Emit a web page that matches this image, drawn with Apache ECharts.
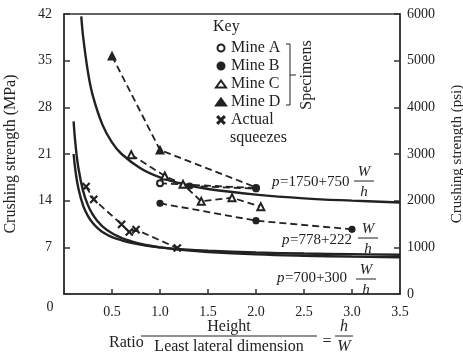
<!DOCTYPE html>
<html>
<head>
<meta charset="utf-8">
<script src="https://cdn.jsdelivr.net/npm/echarts@6/dist/echarts.min.js"></script>
<style>
  html, body { margin: 0; padding: 0; background: #fff; }
  #chart { width: 463px; height: 363px; }
</style>
</head>
<body>
<div id="chart"></div>
<script>
// curves (psi, right axis)
const upperX = [0.18, 0.2, 0.25, 0.3, 0.4, 0.5, 0.6, 0.8, 1.0, 1.25, 1.5, 2.0, 2.5, 3.0, 3.5]
const upperPsi = [5950, 5500, 4750, 4250, 3630, 3250, 3000, 2690, 2500, 2350, 2250, 2130, 2050, 2000, 1960]
const lowerX = [0.1, 0.12, 0.15, 0.2, 0.25, 0.3, 0.35, 0.4, 0.5, 0.6, 0.7, 0.85, 1.0, 1.25, 1.5, 2.0, 2.5, 3.0, 3.5]
const lower300Psi = [3700, 3200, 2700, 2200, 1900, 1700, 1560, 1450, 1300, 1200, 1130, 1050, 1000, 940, 900, 850, 820, 800, 786]
const lower222Psi = [3000, 2630, 2260, 1890, 1670, 1520, 1410, 1330, 1220, 1150, 1095, 1040, 1000, 955, 926, 889, 867, 852, 841]

// specimens (MPa, left axis)
const mineA = [[1.0, 16.6], [2.0, 15.9]]
const mineB = [[1.0, 13.6], [2.0, 11.0], [3.0, 9.7]]
const mineBExtra = [[1.31, 16.2], [2.0, 15.8]]
const mineC = [[0.7, 20.9], [1.05, 17.7], [1.24, 16.45], [1.43, 13.9], [1.75, 14.45], [2.05, 13.1]]
const mineD = [[0.5, 35.7], [1.0, 21.6], [2.0, 16.0]]
const squeezes = [[0.23, 16.1], [0.31, 14.2], [0.6, 10.45], [0.68, 9.3], [0.75, 9.65], [1.18, 6.9]]

const xTicks = [0.5, 1.0, 1.5, 2.0, 2.5, 3.0, 3.5]

const ink = '#222'
const serif = 'Liberation Serif'
const crossPath = 'path://M0,1L1,0L5,4L9,0L10,1L6,5L10,9L9,10L5,6L1,10L0,9L4,5Z'

const zip = (xs, ys) => xs.map((x, i) => [x, ys[i]])

function curve(name, data) {
  return {
    name, type: 'line', yAxisIndex: 1, data,
    smooth: 0.4, symbol: 'none',
    lineStyle: { color: ink, width: 2.4 }, z: 2, silent: true
  }
}

function dashed(name, data, symbol, size) {
  return {
    name, type: 'line', data,
    symbol, symbolSize: size || 6,
    itemStyle: { color: ink, borderColor: ink, borderWidth: 1.2 },
    lineStyle: { color: ink, width: 1.8, type: [7, 4] },
    z: 3
  }
}

function txt(text, x, y, size, opts) {
  opts = opts || {}
  const style = {
    text, x: 0, y: 0, fill: ink,
    font: (opts.italic ? 'italic ' : '') + size + 'px "' + serif + '", serif',
    textAlign: opts.align || 'left', textVerticalAlign: 'middle'
  }
  return { type: 'text', z: 10, x, y, rotation: opts.rotation || 0, style }
}

function hline(x1, x2, y) {
  return { type: 'line', z: 10, shape: { x1, y1: y, x2, y2: y }, style: { stroke: ink, lineWidth: 1 } }
}

function fraction(cx, y, top, bottom, half, size, italic, gap) {
  gap = gap || 9
  return [
    txt(top, cx, y - gap, size, { italic, align: 'center' }),
    hline(cx - half, cx + half, y),
    txt(bottom, cx, y + gap + 2, size, { italic, align: 'center' })
  ]
}

const graphics = [
  txt('Key', 213, 27, 16),
  txt('squeezes', 230, 138, 16),
  { type: 'polyline', z: 10, shape: { points: [[286, 44], [290, 44], [290, 105], [286, 105]] },
    style: { stroke: ink, lineWidth: 1, fill: null } },
  hline(290, 296, 75),
  txt('Specimens', 307, 75, 16, { rotation: Math.PI / 2, align: 'center' }),
  txt('p', 272, 182, 15, { italic: true }),
  txt('=1750+750', 280, 182, 15),
  ...fraction(364, 181, 'W', 'h', 10, 15, true),
  txt('p', 282, 240, 15, { italic: true }),
  txt('=778+222', 290, 240, 15),
  ...fraction(368, 238, 'W', 'h', 10, 15, true),
  txt('p', 277, 278, 15, { italic: true }),
  txt('=700+300', 285, 278, 15),
  ...fraction(366, 279, 'W', 'h', 10, 15, true),
  txt('0', 50, 307, 14, { align: 'center' }),
  txt('Ratio', 109, 343, 16),
  ...fraction(229, 336, 'Height', 'Least lateral dimension', 88, 16, false, 9),
  txt('=', 327, 342, 16, { align: 'center' }),
  ...fraction(344, 336, 'h', 'W', 9, 16, true, 9)
]

const chart = echarts.init(document.getElementById('chart'), null, { renderer: 'canvas' })

chart.setOption({
  animation: false,
  backgroundColor: '#fff',
  textStyle: { fontFamily: serif, color: ink },
  grid: {
    left: 64, right: 63, top: 14, bottom: 69, outerBoundsMode: 'none',
    show: true, borderColor: '#333', borderWidth: 1.5
  },
  legend: {
    orient: 'vertical', left: 215, top: 39, padding: 0, itemGap: 0,
    itemWidth: 10, itemHeight: 7, selectedMode: false,
    textStyle: { fontFamily: serif, fontSize: 16, color: ink, lineHeight: 18 },
    formatter: (name) => name === 'Actual squeezes' ? 'Actual' : name,
    data: [
      { name: 'Mine A', icon: 'emptyCircle' },
      { name: 'Mine B', icon: 'circle' },
      { name: 'Mine C', icon: 'emptyTriangle' },
      { name: 'Mine D', icon: 'triangle' },
      { name: 'Actual squeezes', icon: crossPath }
    ]
  },
  xAxis: {
    type: 'value', min: 0, max: 3.5, interval: 0.5,
    axisLine: { lineStyle: { color: '#333', width: 1.5 } },
    axisTick: { inside: true, length: 5, lineStyle: { color: '#333', width: 1.5 } },
    axisLabel: {
      margin: 11, fontSize: 14, fontFamily: serif, color: ink,
      formatter: (v) => xTicks.includes(v) ? v.toFixed(1) : ''
    },
    splitLine: { show: false }
  },
  yAxis: [
    {
      type: 'value', min: 0, max: 42, interval: 7,
      name: 'Crushing strength (MPa)', nameLocation: 'middle', nameGap: 45,
      nameTextStyle: { fontSize: 16, fontFamily: serif, color: ink },
      axisLine: { show: true, lineStyle: { color: '#333', width: 1.5 } },
      axisTick: { show: true, inside: true, length: 6, lineStyle: { color: '#333', width: 1.5 } },
      axisLabel: { margin: 12, fontSize: 14, fontFamily: serif, color: ink,
        formatter: (v) => v === 0 ? '' : String(v) },
      splitLine: { show: false }
    },
    {
      type: 'value', min: 0, max: 6000, interval: 1000, position: 'right',
      name: 'Crushing strength (psi)', nameLocation: 'middle', nameGap: 50,
      nameTextStyle: { fontSize: 15, fontFamily: serif, color: ink },
      axisLine: { show: true, lineStyle: { color: '#333', width: 1.5 } },
      axisTick: { show: true, inside: true, length: 6, lineStyle: { color: '#333', width: 1.5 } },
      axisLabel: { margin: 7, fontSize: 14, fontFamily: serif, color: ink,
        formatter: (v) => String(v) },
      splitLine: { show: false }
    }
  ],
  series: [
    curve('p1750', zip(upperX, upperPsi)),
    curve('p700', zip(lowerX, lower300Psi)),
    curve('p778', zip(lowerX, lower222Psi)),
    dashed('Mine A', mineA, 'emptyCircle'),
    dashed('Mine B', mineB, 'circle'),
    dashed('Mine B', mineBExtra, 'circle'),
    dashed('Mine C', mineC, 'emptyTriangle', 7),
    dashed('Mine D', mineD.map((p, i) => i === 2 ? { value: p, symbol: 'none' } : p), 'triangle', 8),
    dashed('Actual squeezes', squeezes, crossPath, 7)
  ],
  graphic: graphics
})
</script>
</body>
</html>
